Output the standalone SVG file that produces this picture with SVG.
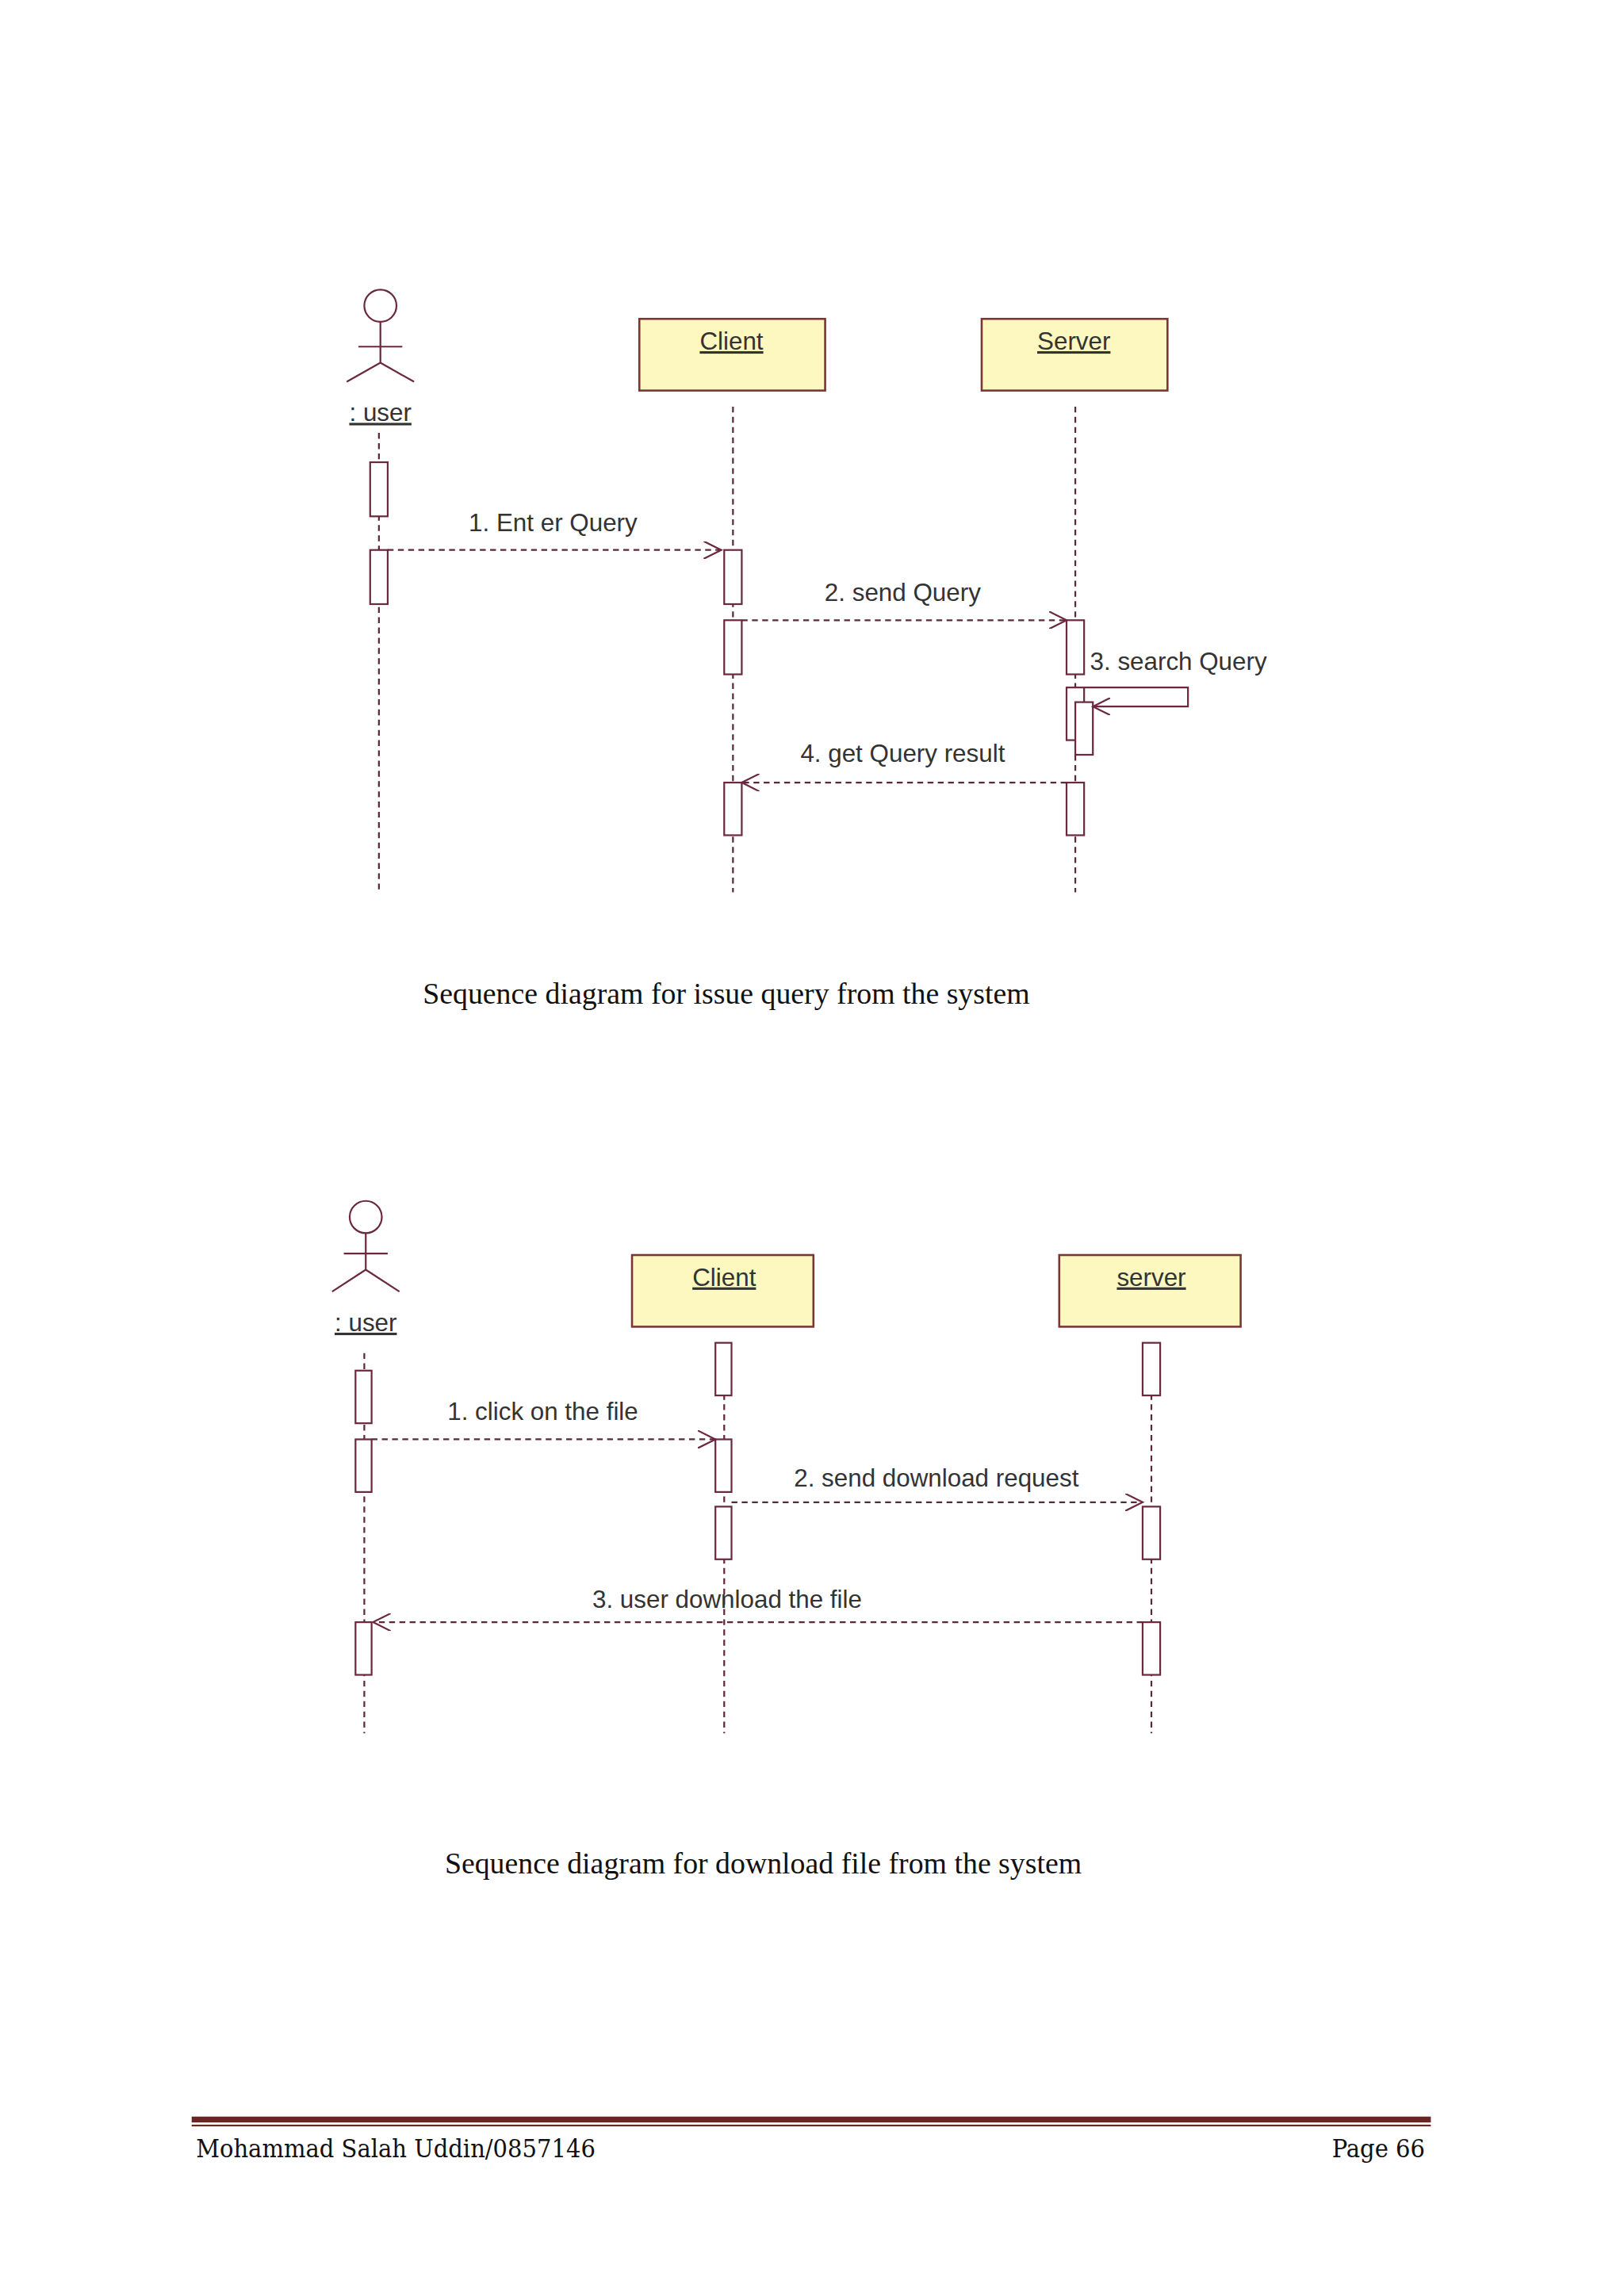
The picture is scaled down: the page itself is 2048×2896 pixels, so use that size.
<svg xmlns="http://www.w3.org/2000/svg" width="2048" height="2896" viewBox="0 0 2048 2896">
<style>
.ln{stroke:#6b2840;stroke-width:1.2;fill:none}
.ll{stroke:#5a2838;stroke-width:1.2;stroke-dasharray:4 3;fill:none}
.box{fill:#fcf8c0;stroke:#7a3535;stroke-width:1.4}
.act{fill:#fff;stroke:#6b2840;stroke-width:1.2}
.t{font-family:"Liberation Sans",Arial,sans-serif;font-size:17px;fill:#333}
.cap{font-family:"Liberation Serif",serif;font-size:20.5px;fill:#111}
.ft{font-family:"DejaVu Serif Condensed","Liberation Serif",serif;font-size:17.5px;fill:#111}
</style>
<defs>
<marker id="op" markerWidth="14" markerHeight="12" refX="12" refY="6" orient="auto" markerUnits="userSpaceOnUse"><path d="M0,0 L12,6 L0,12" fill="none" stroke="#6b2840" stroke-width="1.2"/></marker>
</defs>
<rect width="2048" height="2896" fill="#fff"/>
<g transform="scale(1.845)">
<g id="d1-user"><circle cx="260" cy="209" r="11" class="ln"/><path d="M260 220V248M245 237H275M260 248L237 261M260 248L283 261" class="ln"/>
<text x="260" y="288" class="t" text-anchor="middle" text-decoration="underline">: user</text></g>
<g id="d1-client"><rect x="437" y="218" width="127" height="49" class="box"/><text x="500" y="239" class="t" text-anchor="middle" text-decoration="underline">Client</text></g>
<g id="d1-server"><rect x="671" y="218" width="127" height="49" class="box"/><text x="734" y="239" class="t" text-anchor="middle" text-decoration="underline">Server</text></g>
<g id="d1-connectors">
<path d="M259 296V610M501 278V610M735 278V610" class="ll"/>
<rect x="253" y="316" width="12" height="37" class="act"/><rect x="253" y="376" width="12" height="37" class="act"/>
<rect x="495" y="376" width="12" height="37" class="act"/><rect x="495" y="424" width="12" height="37" class="act"/><rect x="495" y="535" width="12" height="36" class="act"/>
<rect x="729" y="424" width="12" height="37" class="act"/><rect x="729" y="470" width="12" height="36" class="act"/><rect x="735" y="480" width="12" height="36" class="act"/><rect x="729" y="535" width="12" height="36" class="act"/>
<path d="M265 376H493" class="ll" marker-end="url(#op)"/>
<path d="M507 424H729" class="ll" marker-end="url(#op)"/>
<path d="M741 470H812V483H747" class="ln" marker-end="url(#op)"/>
<path d="M729 535H507" class="ll" marker-end="url(#op)"/>
<text x="378" y="363" class="t" text-anchor="middle">1. Ent er Query</text>
<text x="617" y="411" class="t" text-anchor="middle">2. send Query</text>
<text x="745" y="458" class="t">3. search Query</text>
<text x="617" y="521" class="t" text-anchor="middle">4. get Query result</text>
</g>
<text x="289" y="686" class="cap">Sequence diagram for issue query from the system</text>

<g id="d2-user"><circle cx="250" cy="832" r="11" class="ln"/><path d="M250 843V868M235 857H265M250 868L227 883M250 868L273 883" class="ln"/>
<text x="250" y="910" class="t" text-anchor="middle" text-decoration="underline">: user</text></g>
<g id="d2-client"><rect x="432" y="858" width="124" height="49" class="box"/><text x="495" y="879" class="t" text-anchor="middle" text-decoration="underline">Client</text></g>
<g id="d2-server"><rect x="724" y="858" width="124" height="49" class="box"/><text x="787" y="879" class="t" text-anchor="middle" text-decoration="underline">server</text></g>
<g id="d2-connectors">
<path d="M249 925V1185M495 918V1185M787 918V1185" class="ll"/>
<rect x="243" y="937" width="11" height="36" class="act"/><rect x="243" y="984" width="11" height="36" class="act"/><rect x="243" y="1109" width="11" height="36" class="act"/>
<rect x="489" y="918" width="11" height="36" class="act"/><rect x="489" y="984" width="11" height="36" class="act"/><rect x="489" y="1030" width="11" height="36" class="act"/>
<rect x="781" y="918" width="12" height="36" class="act"/><rect x="781" y="1030" width="12" height="36" class="act"/><rect x="781" y="1109" width="12" height="36" class="act"/>
<path d="M254 984H489" class="ll" marker-end="url(#op)"/>
<path d="M500 1027H781" class="ll" marker-end="url(#op)"/>
<path d="M781 1109H255" class="ll" marker-end="url(#op)"/>
<text x="371" y="971" class="t" text-anchor="middle">1. click on the file</text>
<text x="640" y="1016" class="t" text-anchor="middle">2. send download request</text>
<text x="497" y="1099" class="t" text-anchor="middle">3. user download the file</text>
</g>
<text x="304" y="1281" class="cap">Sequence diagram for download file from the system</text>

<rect x="131" y="1447" width="847" height="4" fill="#6b2525"/><rect x="131" y="1452.5" width="847" height="1.2" fill="#6b2525"/>
<text x="134" y="1475" class="ft">Mohammad Salah Uddin/0857146</text>
<text x="974" y="1475" class="ft" text-anchor="end">Page 66</text>
</g>
</svg>
